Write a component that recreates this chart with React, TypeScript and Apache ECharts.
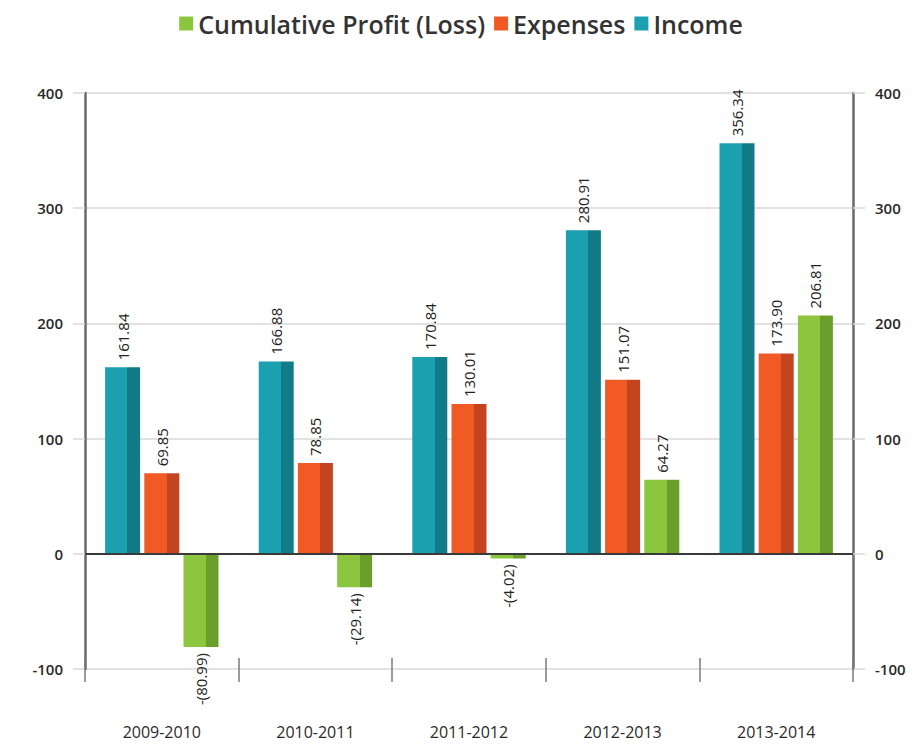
import React, { useEffect, useRef } from "react";
import * as echarts from "echarts";

const categories = ["2009-2010", "2010-2011", "2011-2012", "2012-2013", "2013-2014"];
const income = [161.84, 166.88, 170.84, 280.91, 356.34];
const expenses = [69.85, 78.85, 130.01, 151.07, 173.9];
const profit = [-80.99, -29.14, -4.02, 64.27, 206.81];
const yTicks = { min: -100, max: 400, interval: 100 };

const seriesNames = {
  profit: "Cumulative Profit (Loss)",
  expenses: "Expenses",
  income: "Income",
};

const colors = {
  income: ["#1aa0af", "#117c88"],
  expenses: ["#f15a24", "#c4441f"],
  profit: ["#8cc63f", "#6b9f2c"],
};

const two = (light: string, dark: string) =>
  new echarts.graphic.LinearGradient(0, 0, 1, 0, [
    { offset: 0, color: light },
    { offset: 0.64, color: light },
    { offset: 0.64, color: dark },
    { offset: 1, color: dark },
  ]);

const fmt = (v: number) =>
  v < 0 ? "-(" + Math.abs(v).toFixed(2) + ")" : v.toFixed(2);

const labelFont = {
  fontFamily: "Open Sans",
  fontSize: 15,
  color: "#222222",
};

const makeData = (arr: number[]) =>
  arr.map((v) => ({
    value: v,
    label:
      v < 0
        ? { show: true, position: "bottom", rotate: 90, align: "right", verticalAlign: "middle", distance: 6, formatter: fmt(v), ...labelFont }
        : { show: true, position: "top", rotate: 90, align: "left", verticalAlign: "middle", distance: 7, formatter: fmt(v), ...labelFont },
  }));

export default function App() {
  const ref = useRef<HTMLDivElement>(null);
  useEffect(() => {
    if (!ref.current) return;
    const chart = echarts.init(ref.current, undefined, { renderer: "svg" });
    const yAxisBase = {
      type: "value",
      min: yTicks.min,
      max: yTicks.max,
      interval: yTicks.interval,
      axisLine: { show: true, onZero: false, lineStyle: { color: "#6a6a6a", width: 2.5 } },
      axisTick: { show: true, length: 12, lineStyle: { color: "#d8d8d8", width: 1.5 } },
      axisLabel: {
        fontFamily: "Open Sans",
        fontSize: 15,
        fontWeight: 600,
        color: "#2a2a2a",
        margin: 22,
      },
    };
    chart.setOption({
      animation: false,
      backgroundColor: "#ffffff",
      legend: {
        top: 6,
        left: "center",
        data: [
          { name: seriesNames.profit, itemStyle: { color: colors.profit[0] } },
          { name: seriesNames.expenses, itemStyle: { color: colors.expenses[0] } },
          { name: seriesNames.income, itemStyle: { color: colors.income[0] } },
        ],
        icon: "rect",
        itemWidth: 14,
        itemHeight: 14,
        itemGap: 9,
        textStyle: {
          fontFamily: "Open Sans",
          fontSize: 25,
          fontWeight: 600,
          color: "#333333",
          padding: [0, 0, 0, 0],
        },
      },
      grid: { left: 85, right: 69, top: 93, bottom: 79 },
      xAxis: [
        {
          type: "category",
          data: categories,
          position: "bottom",
          axisLine: { show: false, onZero: false },
          axisTick: { show: true, length: 13, lineStyle: { color: "#7a7a7a", width: 1.5 } },
          axisLabel: {
            fontFamily: "Open Sans",
            fontSize: 16,
            fontWeight: 500,
            color: "#2a2a2a",
            margin: 55,
          },
        },
        {
          type: "category",
          data: categories,
          position: "bottom",
          axisLine: { show: false, onZero: false },
          axisTick: { show: true, inside: true, length: 11, lineStyle: { color: "#7a7a7a", width: 1.5 } },
          axisLabel: { show: false },
        },
      ],
      yAxis: [
        {
          ...yAxisBase,
          position: "left",
          splitLine: { show: true, lineStyle: { color: "#d8d8d8", width: 1.5 } },
        },
        {
          ...yAxisBase,
          position: "right",
          splitLine: { show: false },
        },
      ],
      series: [
        {
          name: seriesNames.income,
          type: "bar",
          barWidth: 35,
          barGap: "12%",
          itemStyle: { color: two(colors.income[0], colors.income[1]) },
          data: makeData(income),
          markLine: {
            silent: true,
            symbol: "none",
            label: { show: false },
            lineStyle: { color: "#3a3a3a", width: 2, type: "solid" },
            data: [{ yAxis: 0 }],
          },
          z: 3,
        },
        {
          name: seriesNames.expenses,
          type: "bar",
          barWidth: 35,
          barGap: "12%",
          itemStyle: { color: two(colors.expenses[0], colors.expenses[1]) },
          data: makeData(expenses),
        },
        {
          name: seriesNames.profit,
          type: "bar",
          barWidth: 35,
          barGap: "12%",
          itemStyle: { color: two(colors.profit[0], colors.profit[1]) },
          data: makeData(profit),
        },
      ],
    });
    return () => chart.dispose();
  }, []);
  return (
    <div
      ref={ref}
      style={{ position: "fixed", left: 0, top: 0, width: 922, height: 748 }}
    />
  );
}
